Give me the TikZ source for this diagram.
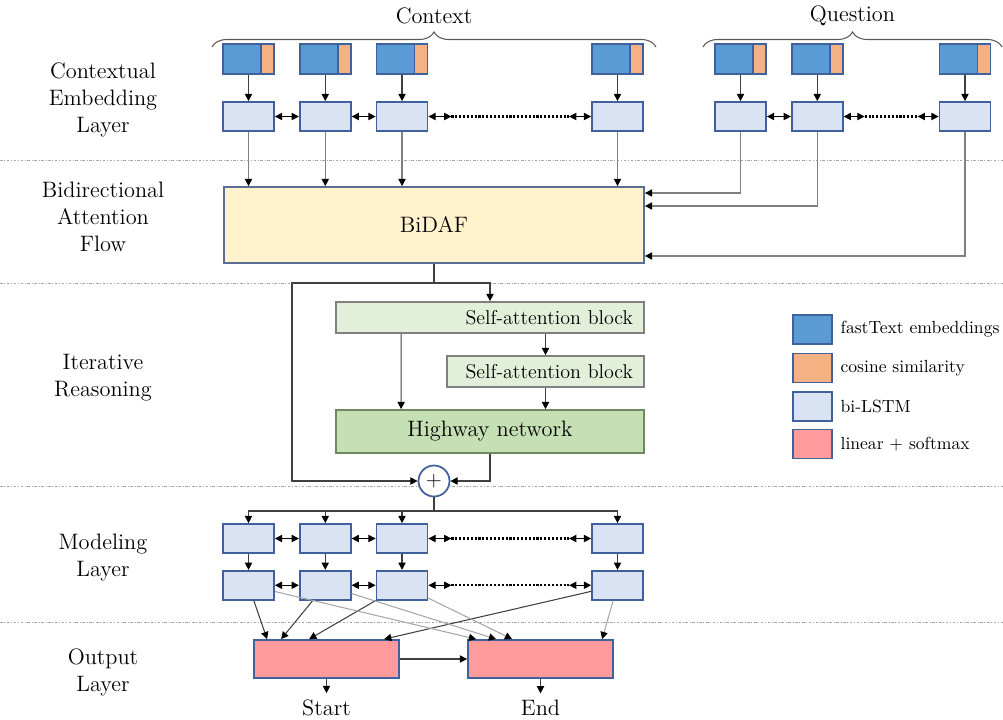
\documentclass[tikz,border=0pt]{standalone}
\usepackage{tikz}
\usetikzlibrary{calc,positioning,shapes}
\usetikzlibrary{decorations.pathreplacing}
\usetikzlibrary{arrows.meta}
\tikzstyle{every node}=[line width=1pt]
\tikzset{>={Triangle[width=1.45mm,length=1.45mm,color=black]}}

\definecolor{embblue}{HTML}{5B9BD5}
\definecolor{cosorange}{HTML}{F4B183}
\definecolor{lstmblue}{HTML}{DAE3F3}
\definecolor{lstmedge}{HTML}{41609E}
\definecolor{bidafyellow}{HTML}{FFF2CC}
\definecolor{bidafedge}{HTML}{5A6E94}
\definecolor{sagreen}{HTML}{E2F0D9}
\definecolor{hwgreen}{HTML}{C5E0B4}
\definecolor{hwedge}{HTML}{6F8A60}
\definecolor{outred}{HTML}{FF9B9B}

\begin{document}
\begin{tikzpicture}[x=0.2mm, y=-0.2mm, font=\fontsize{12.7}{15.3}\selectfont]
    \tikzstyle{lstm} = [draw=lstmedge, fill=lstmblue, minimum width=10.2mm, minimum height=5.8mm, inner sep=0pt]
    \tikzstyle{emb} = [draw=lstmedge, fill=embblue, minimum width=10.2mm, minimum height=6mm, inner sep=0pt,
        path picture={\fill[cosorange] ([xshift=-2.6mm]path picture bounding box.north east) rectangle (path picture bounding box.south east);
                      \draw[lstmedge] ([xshift=-2.6mm]path picture bounding box.north east) -- ([xshift=-2.6mm]path picture bounding box.south east);}]
    \tikzstyle{sa} = [draw=gray, fill=sagreen, align=right, inner xsep=2.2mm, minimum height=6.2mm, font=\fontsize{11.4}{13}\selectfont]
    \tikzstyle{outbox} = [draw=lstmedge, fill=outred, minimum width=29mm, minimum height=7.6mm]
    \tikzstyle{key} = [draw=lstmedge, minimum width=7.8mm, minimum height=5.8mm]
    \tikzstyle{keytext} = [font=\fontsize{10}{12}\selectfont]
    \tikzstyle{layer} = [align=center]
    \tikzstyle{link} = [->, line width=0.6pt, black!75]
    \tikzstyle{feed} = [->, line width=0.6pt, black!50]
    \tikzstyle{bilink} = [<->, line width=0.6pt]
    \tikzstyle{gap} = [line width=1.2pt, densely dotted]
    \tikzstyle{sep} = [gray!70, line width=0.4pt, dash pattern=on 1.5pt off 1pt on 0.4pt off 1pt]
    \tikzstyle{brace} = [decorate, decoration={brace, amplitude=3mm}, black!65, line width=0.6pt]

    \useasboundingbox (0,0) rectangle (1003,719);

    % layer borders
    \draw[sep] (0,160) -- (1003,160);
    \draw[sep] (0,283) -- (1003,283);
    \draw[sep] (0,486) -- (1003,486);
    \draw[sep] (0,622) -- (1003,622);

    \node[layer] (lcel) at (103,100) {Contextual\\Embedding\\Layer};
    \node[layer] (lbaf) at (103,217) {Bidirectional\\Attention\\Flow};
    \node[layer] (lir) at (103,377.5) {Iterative\\Reasoning};
    \node[layer] (lml) at (103,557.5) {Modeling\\Layer};
    \node[layer] (lol) at (103,672) {Output\\Layer};

    % context encoder
    \node[lstm] (c1) at (248.5,116.5) {};
    \node[lstm, right=4.8mm of c1] (c2) {};
    \node[lstm, right=4.8mm of c2] (c3) {};
    \node[lstm] (c4) at (617.5,116.5) {};
    \node[emb, above=5.2mm of c1] (ce1) {};
    \node[emb, above=5.2mm of c2] (ce2) {};
    \node[emb, above=5.2mm of c3] (ce3) {};
    \node[emb, above=5.2mm of c4] (ce4) {};
    \coordinate[right=4.6mm of c3.east] (cg1);
    \coordinate[left=4.4mm of c4.west] (cg2);

    % question encoder
    \node[lstm] (q1) at (740.5,116.5) {};
    \node[lstm, right=4.8mm of q1] (q2) {};
    \node[lstm] (q3) at (965,116.5) {};
    \node[emb, above=5.2mm of q1] (qe1) {};
    \node[emb, above=5.2mm of q2] (qe2) {};
    \node[emb, above=5.2mm of q3] (qe3) {};
    \coordinate[right=4.2mm of q2.east] (qg1);
    \coordinate[left=4.2mm of q3.west] (qg2);

    \coordinate (ctxl) at (212,47);
    \coordinate (ctxr) at (656,47);
    \coordinate (qstl) at (703,47);
    \coordinate (qstr) at (1002,47);
    \draw[brace] (ctxl) -- (ctxr);
    \draw[brace] (qstl) -- (qstr);
    \node (ctx) at (434,16) {Context};
    \node (qst) at (852.5,16) {Question};

    \draw[link] (ce1) -- (c1);
    \draw[link] (ce2) -- (c2);
    \draw[link] (ce3) -- (c3);
    \draw[link] (ce4) -- (c4);
    \draw[link] (qe1) -- (q1);
    \draw[link] (qe2) -- (q2);
    \draw[link] (qe3) -- (q3);
    \draw[bilink] (c1) -- (c2);
    \draw[bilink] (c2) -- (c3);
    \draw[bilink] (c3) -- (cg1);
    \draw[gap] (cg1) -- (cg2);
    \draw[bilink] (cg2) -- (c4);
    \draw[bilink] (q1) -- (q2);
    \draw[bilink] (q2) -- (qg1);
    \draw[gap] (qg1) -- (qg2);
    \draw[bilink] (qg2) -- (q3);

    % attention flow
    \node[draw=bidafedge, fill=bidafyellow, minimum width=84mm, minimum height=15.2mm] (bidaf) at (434,225) {BiDAF};
    \draw[feed] (c1) -- (c1 |- bidaf.north);
    \draw[feed] (c2) -- (c2 |- bidaf.north);
    \draw[feed] (c3) -- (c3 |- bidaf.north);
    \draw[feed] (c4) -- (c4 |- bidaf.north);
    \draw[feed] (q1) |- ([yshift=6.4mm]bidaf.east);
    \draw[feed] (q2) |- ([yshift=3.8mm]bidaf.east);
    \draw[feed] (q3) |- ([yshift=-6.2mm]bidaf.east);

    % iterative reasoning
    \node[sa, text width=57.2mm] (sa1) at (490,317.5) {Self-attention block};
    \node[sa, text width=35mm] (sa2) at (545.5,371.5) {Self-attention block};
    \node[draw=hwedge, fill=hwgreen, minimum width=61.6mm, minimum height=8.6mm] (hw) at (490,431.5) {Highway network};
    \node[circle, draw=lstmedge, fill=white, minimum size=6.2mm, inner sep=0pt] (plus) at (434,481) {$+$};
    \coordinate (split) at (434,283);
    \coordinate (skip) at (292,481);

    \draw[link] (bidaf) -- (split) -| (sa1);
    \draw[link] (split) -| (skip) -- (plus);
    \draw[link] (sa1.south -| sa2) -- (sa2);
    \draw[link] ([xshift=13.2mm]sa1.south west) -- ([xshift=13.2mm]hw.north west);
    \draw[link] (sa2) -- (sa2 |- hw.north);
    \draw[link] (hw) |- (plus);

    % modeling layer
    \node[lstm] (m1) at (248.5,538.5) {};
    \node[lstm, right=4.8mm of m1] (m2) {};
    \node[lstm, right=4.8mm of m2] (m3) {};
    \node[lstm] (m4) at (617.5,538.5) {};
    \node[lstm, below=3.2mm of m1] (n1) {};
    \node[lstm, below=3.2mm of m2] (n2) {};
    \node[lstm, below=3.2mm of m3] (n3) {};
    \node[lstm, below=3.2mm of m4] (n4) {};
    \coordinate[right=4.6mm of m3.east] (mg1);
    \coordinate[left=4.4mm of m4.west] (mg2);
    \coordinate[right=4.6mm of n3.east] (ng1);
    \coordinate[left=4.4mm of n4.west] (ng2);
    \coordinate (fan) at (434,511);

    \draw[line width=0.6pt, black!75] (plus) -- (fan);
    \draw[link] (fan) -| (m1);
    \draw[link] (fan) -| (m2);
    \draw[link] (fan) -| (m3);
    \draw[link] (fan) -| (m4);
    \draw[link] (m1) -- (n1);
    \draw[link] (m2) -- (n2);
    \draw[link] (m3) -- (n3);
    \draw[link] (m4) -- (n4);
    \draw[bilink] (m1) -- (m2);
    \draw[bilink] (m2) -- (m3);
    \draw[bilink] (m3) -- (mg1);
    \draw[gap] (mg1) -- (mg2);
    \draw[bilink] (mg2) -- (m4);
    \draw[bilink] (n1) -- (n2);
    \draw[bilink] (n2) -- (n3);
    \draw[bilink] (n3) -- (ng1);
    \draw[gap] (ng1) -- (ng2);
    \draw[bilink] (ng2) -- (n4);

    % output layer
    \node[outbox] (st) at (326.5,659) {};
    \node[outbox] (en) at (540.5,659) {};
    \node (stlab) at (326.5,708) {Start};
    \node (enlab) at (540.5,708) {End};

    \draw[link] (n1) -- ([xshift=2.8mm]st.north west);
    \draw[link] (n2) -- ([xshift=5.6mm]st.north west);
    \draw[link] (n3) -- ([xshift=11.2mm]st.north west);
    \draw[link] (n4) -- ([xshift=26.2mm]st.north west);
    \draw[feed, black!35] (n1) -- ([xshift=1.8mm]en.north west);
    \draw[feed, black!35] (n2) -- ([xshift=5.8mm]en.north west);
    \draw[feed, black!35] (n3) -- ([xshift=9mm]en.north west);
    \draw[feed, black!35] (n4) -- ([xshift=27mm]en.north west);
    \draw[link] (st) -- (en);
    \draw[link] (st) -- (stlab);
    \draw[link] (en) -- (enlab);

    % legend
    \node[key, fill=embblue] (k1) at (812.5,329.5) {};
    \node[key, fill=cosorange] (k2) at (812.5,368) {};
    \node[key, fill=lstmblue] (k3) at (812.5,406.5) {};
    \node[key, fill=outred] (k4) at (812.5,444) {};
    \node[keytext, right=0.2mm of k1] (k1t) {fastText embeddings};
    \node[keytext, right=0.2mm of k2] (k2t) {cosine similarity};
    \node[keytext, right=0.2mm of k3] (k3t) {bi-LSTM};
    \node[keytext, right=0.2mm of k4] (k4t) {linear + softmax};
\end{tikzpicture}
\end{document}
